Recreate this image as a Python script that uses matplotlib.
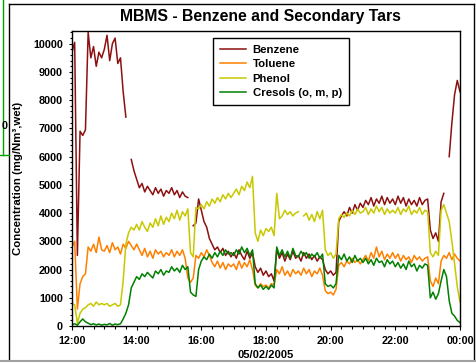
import numpy as np
import matplotlib.pyplot as plt
from matplotlib.ticker import MultipleLocator, FuncFormatter
from matplotlib.lines import Line2D

plt.rcParams['font.family'] = ['Liberation Sans', 'DejaVu Sans']
plt.rcParams['font.weight'] = 'bold'

nan = np.nan

# MBMS samples every 5 minutes, 12:00 -> 00:00 (one row per hour)
hours = 12 + np.arange(145) * 5 / 60

benzene = [
    9700, 10050, 2500, 6900, 6750, 6950, 10400, 9500, 9900, 9200, 9700, 9500,
    9800, 10300, 9400, 10000, 10200, 9300, 9500, 8300, 7400, nan, 5900, 5500,
    5200, 4900, 5050, 4750, 4950, 4800, 4650, 4900, 4700, 4850, 4600, 4800,
    4700, 4900, 4650, 4800, 4550, 4750, 4600, 4550, nan, 3550, 3650, 4500,
    4100, 3700, 3500, 3100, 2900, 2700, 2800, 2600, 2750, 2500, 2650, 2450,
    2600, 2400, 2700, 2500, 2350, 2650, 2400, 2600, 2100, 1900, 2050, 1800,
    1950, 1750, 1850, 1600, 2700, 2400, 2600, 2300, 2550, 2350, 2650, 2400,
    2500, 2300, 2600, 2400, 2550, 2350, 2500, 2300, 2450, 2350, 2000, 1850,
    1950, 1800, 1900, 3700, 3900, 4050, 3900, 4200, 4000, 4300, 4100, 4350,
    4200, 4450, 4300, 4550, 4250, 4500, 4350, 4600, 4300, 4550, 4350, 4500,
    4300, 4600, 4350, 4550, 4250, 4500, 4300, 4450, 4250, 4550, 4300, 4450,
    4500, 3400, 3100, 3300, 3000, 4400, 4700, nan, 6000, 7200, 8200, 8700,
    8300,
]

toluene = [
    2800, 3000, 600, 1500, 1750, 1850, 2800, 2650, 2900, 2600, 3150, 2700,
    2650, 2850, 2600, 2950, 2700, 2800, 2550, 2900, 2750, 3000, 2850, 2700,
    2900, 2700, 2500, 2750, 2450, 2650, 2400, 2700, 2550, 2650, 2450, 2600,
    2500, 2700, 2450, 2650, 2500, 2700, 2400, 1700, 1550, 1700, 2500, 2400,
    2600, 2450, 2700, 2500, 2250, 2100, 2300, 2050, 2250, 2000, 2200, 2100,
    2200, 2000, 2300, 2050, 2250, 2100, 2350, 2000, 1450, 1350, 1500, 1400,
    1450, 1350, 1500, 1450, 2000, 1850, 2100, 1800, 1950, 1750, 2000, 1850,
    1950, 1800, 2050, 1850, 2000, 1750, 1950, 1850, 2050, 1800, 1250, 1150,
    1200, 1100, 1300, 2150, 2250, 2100, 2300, 2200, 2400, 2250, 2350, 2200,
    2350, 2500, 2300, 2600, 2400, 2800, 2450, 2650, 2350, 2550, 2400, 2600,
    2400, 2550, 2300, 2500, 2350, 2450, 2250, 2500, 2350, 2450, 2300, 2400,
    2450, 1600, 1400, 1700, 1500, 2300, 2500, 2400, 2600, 2350, 2550, 2400,
    2300,
]

phenol = [
    800, 750, 100, 450, 600, 650, 750, 800, 700, 850, 750, 800,
    750, 800, 700, 750, 800, 700, 750, 1600, 2900, 3300, 3500, 3400,
    3600, 3400, 3700, 3500, 3350, 3650, 3500, 3800, 3550, 3900, 3600, 3850,
    3700, 4000, 3800, 4100, 3750, 4050, 3900, 4150, 2600, 2450, 4200, 4150,
    4300, 4150, 4400, 4250, 4500, 4350, 4550, 4400, 4650, 4500, 4700, 4550,
    4700, 4850, 4650, 4950, 4800, 5100, 4900, 5300, 3300, 3000, 3400, 3200,
    3450, 3350, 3500, 3200, 4700, 3800, 3900, 4100, 3950, 4050, 3900, 4000,
    4050, nan, 3900, 4000, 3750, 3950, 3700, 4050, 3800, 4100, 2700, 2500,
    2600, 2400, 2550, 3800, 3950, 3850, 4000, 3900, 4100, 3950, 4150, 4000,
    4050, 4200, 3950, 4150, 4000, 4250, 4050, 4200, 3950, 4150, 4000, 4100,
    4000, 4200, 3950, 4150, 4050, 4250, 3950, 4100, 4000, 4200, 3950, 4100,
    4050, 2600, 2450, 2650, 2500, 4100, 4300, 4000, 3700, 3000, 2200, 1400,
    850,
]

cresols = [
    50, 80, 30, 150, 250, 150, 100, 50, 80, 40, 70, 30,
    60, 40, 90, 30, 70, 50, 80, 250, 450, 750, 1350, 1550,
    1750, 1650, 1850, 1750, 1900, 1800, 1700, 1950, 1850, 2000, 1800, 1950,
    1900, 2100, 1950, 2050, 1900, 2150, 2000, 2100, 1200, 1100, 1050, 2000,
    2300, 2450, 2350, 2550, 2400, 2600, 2450, 2650, 2500, 2700, 2550, 2600,
    2500, 2700, 2550, 2800, 2600, 2750, 2500, 2700, 1500, 1350, 1450, 1300,
    1400, 1300, 1450, 1350, 2800, 2500, 2700, 2450, 2650, 2400, 2750, 2500,
    2450, 2650, 2500, 2600, 2400, 2550, 2450, 2600, 2400, 2550, 1500, 1400,
    1450, 1350, 1500, 2500, 2350, 2550, 2300, 2450, 2250, 2500, 2300, 2400,
    2250, 2400, 2200, 2350, 2150, 2400, 2250, 2300, 2100, 2350, 2200, 2300,
    2100, 2250, 2050, 2200, 2000, 2300, 2100, 2200, 1950, 2150, 2050, 2200,
    2150, 1000, 1200, 950, 1150, 1600, 2000, 1750, 900, 450, 350, 200,
    120,
]

series = [
    ('Benzene', benzene, '#8c1010'),
    ('Toluene', toluene, '#ff8000'),
    ('Phenol', phenol, '#c8c800'),
    ('Cresols (o, m, p)', cresols, '#008000'),
]

fig = plt.figure(figsize=(4.77, 3.62), dpi=100)
ax = fig.add_axes([0.1509, 0.0994, 0.8134, 0.8149])

for name, values, colour in series:
    ax.plot(hours, values, color=colour, lw=1.1, label=name)

ax.set_xlim(12, 24)
ax.set_ylim(0, 10450)

# 2 h major ticks, hh:00 labels
ax.xaxis.set_major_locator(MultipleLocator(2))
ax.xaxis.set_minor_locator(MultipleLocator(1 / 3))
ax.xaxis.set_major_formatter(FuncFormatter(lambda h, pos: '%02d:00' % (int(round(h)) % 24)))
ax.yaxis.set_major_locator(MultipleLocator(1000))
ax.yaxis.set_minor_locator(MultipleLocator(200))

ax.tick_params(axis='both', which='both', direction='out', labelsize=7.8, width=0.8)
ax.tick_params(axis='x', which='major', length=3, pad=4)
ax.tick_params(axis='x', which='minor', length=2)
ax.tick_params(axis='y', which='major', length=2.5, pad=4)
ax.tick_params(axis='y', which='minor', length=1.5)
for spine in ax.spines.values():
    spine.set_linewidth(1.0)

ax.set_title('MBMS - Benzene and Secondary Tars', fontsize=11.3, fontweight='bold', x=0.485, pad=7)
ax.set_xlabel('05/02/2005', fontsize=8, fontweight='bold')
ax.xaxis.set_label_coords(0.5, -0.08)
ax.set_ylabel('Concentration (mg/Nm³,wet)', fontsize=8.2, fontweight='bold')
ax.yaxis.set_label_coords(-0.125, 0.5)

leg = ax.legend(loc='upper left', bbox_to_anchor=(0.363, 0.976), borderaxespad=0,
                fontsize=8.2, handlelength=2.3, handletextpad=0.6, labelspacing=0.38,
                fancybox=False, framealpha=1, edgecolor='black', borderpad=0.6)
leg.get_frame().set_linewidth(1.0)
for text in leg.get_texts():
    text.set_fontweight('bold')

# slide frame around the chart
def fig_line(xs, ys, colour='black', lw=1.0):
    fig.add_artist(Line2D([x / 477 for x in xs], [1 - y / 362 for y in ys],
                          transform=fig.transFigure, color=colour, lw=lw))

fig_line([9, 474], [4, 4])
fig_line([9, 9], [4, 362])
fig_line([474, 474], [4, 362])
fig_line([0, 477], [361, 361], colour='#a0a0a0', lw=1.5)
fig_line([2.5, 2.5], [0, 155], colour='#00a000')
fig_line([0, 9], [155, 155], colour='#00a000')
fig.text(5 / 477, 1 - 126 / 362, '0', fontsize=7.8, fontweight='bold', ha='center', va='center')

fig.savefig('out.png', dpi=100)
